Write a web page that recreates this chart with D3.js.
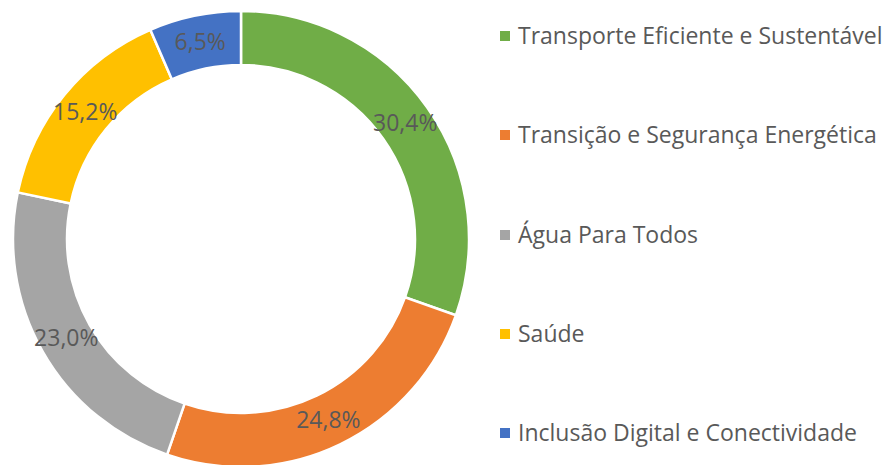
<!DOCTYPE html>
<html>
<head>
<meta charset="utf-8">
<script src="https://cdn.jsdelivr.net/npm/d3@7"></script>
<style>
  body { margin: 0; background: #fff; }
  svg { display: block; font-family: "Open Sans", sans-serif; }
</style>
</head>
<body>
<div id="chart"></div>
<script>
const CATEGORIES = [
  "Transporte Eficiente e Sustentável",
  "Transição e Segurança Energética",
  "Água Para Todos",
  "Saúde",
  "Inclusão Digital e Conectividade",
];
const VALUES = [30.4, 24.8, 23.0, 15.2, 6.5];
const COLORS = ["#70ad47", "#ed7d31", "#a5a5a5", "#ffc000", "#4472c4"];

const WIDTH = 894;
const HEIGHT = 465;
const CX = 241;
const CY = 239;
const OUTER = 228;
const INNER = 174;

const data = CATEGORIES.map((name, i) => ({ name, value: VALUES[i], color: COLORS[i] }));

const svg = d3.select("#chart")
  .append("svg")
  .attr("width", WIDTH)
  .attr("height", HEIGHT);

const pie = d3.pie()
  .sort(null)
  .value((d) => d.value);

const arc = d3.arc()
  .innerRadius(INNER)
  .outerRadius(OUTER);

const labelArc = d3.arc()
  .innerRadius((INNER + OUTER) / 2)
  .outerRadius((INNER + OUTER) / 2);

const g = svg.append("g").attr("transform", `translate(${CX},${CY})`);

const arcs = pie(data);

g.selectAll(".slice")
  .data(arcs)
  .join("path")
  .attr("class", "slice")
  .attr("fill", (d) => d.data.color)
  .attr("stroke", "#fff")
  .attr("stroke-width", 2.5)
  .attr("d", arc);

const fmt = (v) => d3.format(".1f")(v).replace(".", ",") + "%";

g.selectAll(".label")
  .data(arcs)
  .join("text")
  .attr("class", "label")
  .attr("transform", (d) => `translate(${labelArc.centroid(d)})`)
  .attr("text-anchor", "middle")
  .attr("dy", "0.35em")
  .attr("fill", "#595959")
  .attr("font-size", 23)
  .text((d) => fmt(d.data.value));

// legend
const LEGEND_X = 500;
const LEGEND_Y = [36, 135, 235, 334, 433];

const legend = svg.append("g").attr("class", "legend");
const item = legend.selectAll("g")
  .data(data)
  .join("g")
  .attr("transform", (_, i) => `translate(${LEGEND_X},${LEGEND_Y[i]})`);

item.append("rect")
  .attr("x", 0)
  .attr("y", -5)
  .attr("width", 10)
  .attr("height", 10)
  .attr("fill", (d) => d.color);

item.append("text")
  .attr("x", 18)
  .attr("dy", "0.35em")
  .attr("fill", "#595959")
  .attr("font-size", 23)
  .text((d) => d.name);
</script>
</body>
</html>
